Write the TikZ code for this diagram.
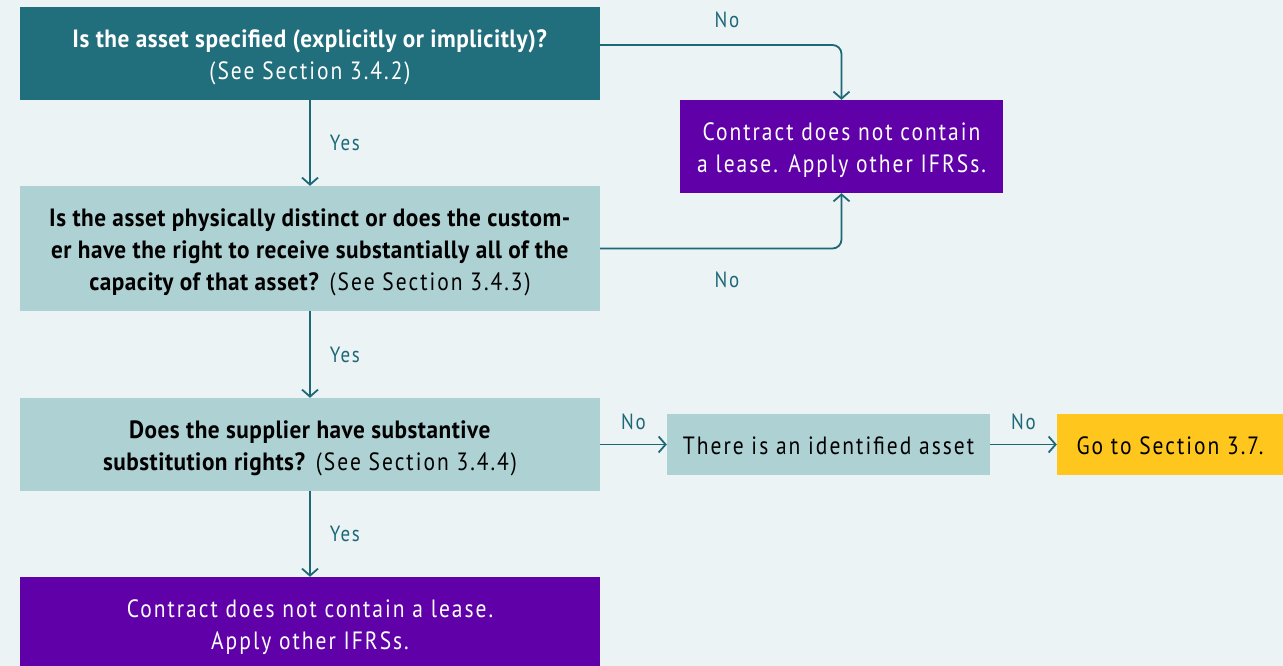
\documentclass[tikz,border=0pt]{standalone}
\usepackage{fontspec}
\setmainfont{PT Sans}[FakeStretch=0.86,LetterSpace=8,
  BoldFeatures={FakeStretch=0.93,LetterSpace=2}]
\usetikzlibrary{arrows.meta}
\definecolor{bgc}{HTML}{EBF3F5}
\definecolor{darkteal}{HTML}{216E7C}
\definecolor{lightteal}{HTML}{AED1D4}
\definecolor{leasepurple}{HTML}{6000A8}
\definecolor{goyellow}{HTML}{FFC61E}
\definecolor{linkc}{HTML}{1C6877}
\tikzset{
  box/.style={rectangle, inner sep=0pt},
  txt/.style={inner sep=0pt, align=center, font=\fontsize{25}{32}\selectfont},
  qdark/.style={box, fill=darkteal},
  qlight/.style={box, fill=lightteal},
  outpurple/.style={box, fill=leasepurple},
  outyellow/.style={box, fill=goyellow},
  link/.style={draw=linkc, line width=1.8pt, -{Straight Barb[length=7pt,width=16pt,line width=1.8pt]}},
  lbl/.style={text=linkc, font=\fontsize{22}{24}\selectfont, inner sep=0pt}
}
\begin{document}
\begin{tikzpicture}[x=1pt,y=-1pt]
\fill[bgc] (0,0) rectangle (1283,666);
\useasboundingbox (0,0) rectangle (1283,666);

% boxes
\node[qdark, minimum width=580pt, minimum height=93pt] (A) at (310,53.5) {};
\node[qlight, minimum width=580pt, minimum height=125pt] (B) at (310,248.5) {};
\node[qlight, minimum width=580pt, minimum height=93pt] (C) at (310,444.5) {};
\node[outpurple, minimum width=580pt, minimum height=92pt] (D) at (310,623) {};
\node[outpurple, minimum width=323pt, minimum height=93pt] (E) at (841.5,146.5) {};
\node[qlight, minimum width=323pt, minimum height=61pt] (F) at (828.5,444.5) {};
\node[outyellow, minimum width=226pt, minimum height=61pt] (G) at (1170,444.5) {};

% box texts
\node[txt, text=white, yshift=-4pt] (At) at (A.center)
  {\textbf{Is the asset specified (explicitly or implicitly)?}\\(See Section 3.4.2)};
\node[txt, text=black, yshift=-4pt] (Bt) at (B.center)
  {\textbf{Is the asset physically distinct or does the custom-}\\
   \textbf{er have the right to receive substantially all of the}\\
   \textbf{capacity of that asset?} (See Section 3.4.3)};
\node[txt, text=black, yshift=-3.5pt] (Ct) at (C.center)
  {\textbf{Does the supplier have substantive}\\
   \textbf{substitution rights?} (See Section 3.4.4)};
\node[txt, text=white, yshift=-4pt] (Dt) at (D.center)
  {Contract does not contain a lease.\\Apply other IFRSs.};
\node[txt, text=white, yshift=-4pt] (Et) at (E.center)
  {Contract does not contain\\a lease. Apply other IFRSs.};
\node[txt, text=black, yshift=-1pt] (Ft) at (F.center)
  {There is an identified asset};
\node[txt, text=black, yshift=-1pt] (Gt) at (G.center)
  {Go to Section 3.7.};

% main column
\draw[link] (A.south) -- node[lbl, right=19pt] {Yes} (B.north);
\draw[link] (B.south) -- node[lbl, right=19pt] {Yes} (C.north);
\draw[link] (C.south) -- node[lbl, right=19pt] {Yes} (D.north);

% branches to the right
\draw[link, rounded corners=9pt] ([yshift=8.5pt]A.east) -- node[lbl, above=16pt, xshift=6pt] {No} ([yshift=8.5pt]A.east -| E.north) -- (E.north);
\draw[link, rounded corners=9pt] (B.east) -- node[lbl, below=22pt, xshift=6pt] {No} (B.east -| E.south) -- (E.south);
\draw[link] (C.east) -- node[lbl, above=14pt] {No} (F.west);
\draw[link] (F.east) -- node[lbl, above=14pt] {No} (G.west);
\end{tikzpicture}
\end{document}
